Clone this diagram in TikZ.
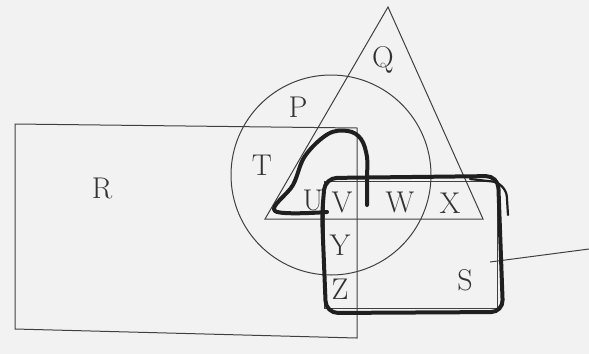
\documentclass[tikz,border=0pt]{standalone}
\usetikzlibrary{positioning}

\tikzset{
  thinline/.style={draw=black!75, line width=1pt},
  inkline/.style={draw=black!88, line width=4pt, line cap=round, line join=round},
  lbl/.style={inner sep=0pt, text=black!80, font=\fontsize{30}{32}\selectfont}
}

\begin{document}
\begin{tikzpicture}[x=1pt, y=-1pt]

        % -----------------------
        % Page and background
        % -----------------------
        \fill[black!5] (0,0) rectangle (589,354);
        \useasboundingbox (0,0) rectangle (589,354);

        % -----------------------
        % Sets R, P (circle), Q (triangle), S (square)
        % -----------------------
        \draw[thinline] (15,124) -- (357,128) -- (357,338) -- (15,329) -- cycle;
        \draw[thinline] (331,175) circle[radius=100];
        \draw[thinline] (388,7) -- (483,219) -- (265,219) -- cycle;
        \draw[thinline] (324,181) rectangle (497,308);
        \draw[thinline] (490,262) -- (589,249);

        % -----------------------
        % Hand-drawn outline
        % -----------------------
        \draw[inkline] plot[smooth, tension=0.6] coordinates {
            (327,212) (275,211) (293,185) (305,156) (328,134) (348,131) (361,139) (367,157) (367,178) (367,205)};
        \draw[inkline, rounded corners=12pt]
            (322,215) -- (325,178) -- (498,176) -- (503,312) -- (326,313) -- cycle;
        \draw[inkline, line width=2.2pt, rounded corners=14pt]
            (470,179) -- (506,183) -- (508,215);

        % -----------------------
        % Labels
        % -----------------------
        \node[lbl] (p) at (298,107) {P};
        \node[lbl] (q) at (383,60) {Q};
        \node[lbl] (r) at (102,188) {R};
        \node[lbl] (s) at (465,280) {S};
        \node[lbl] (t) at (262,165) {T};
        \node[lbl] (u) at (313,200) {U};
        \node[lbl] (v) at (342,202) {V};
        \node[lbl] (w) at (400,202) {W};
        \node[lbl] (x) at (450,203) {X};
        \node[lbl] (y) at (340,245) {Y};
        \node[lbl] (z) at (340,289) {Z};

    \end{tikzpicture}
\end{document}
